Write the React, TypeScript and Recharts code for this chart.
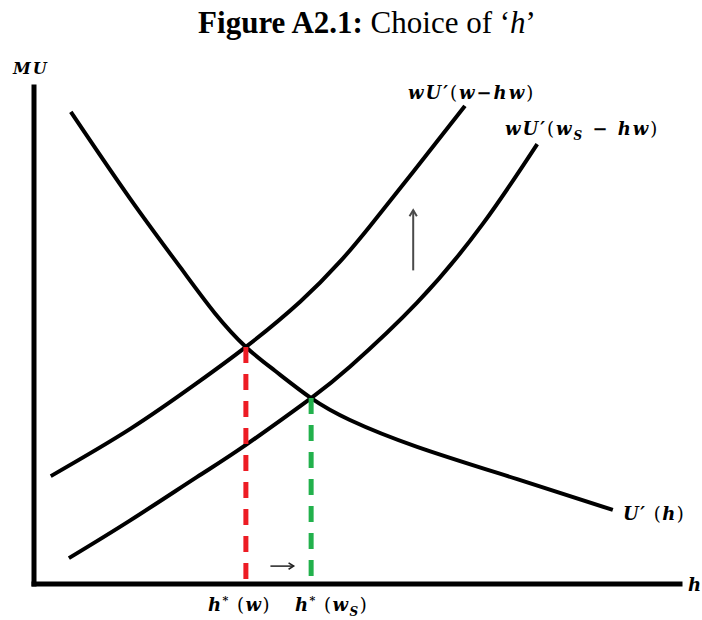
import { ComposedChart, Line, XAxis, YAxis, ReferenceLine } from 'recharts'

// h runs 0..100 along the axis, MU runs 0..100 up the axis
const uPrimeH = [5.7, 14.9, 22.6, 28.0, 32.8, 37.3, 42.9, 48.9, 59.3, 74.8, 89.6]
const uPrimeMU = [95.0, 77.5, 63.8, 54.5, 47.7, 42.9, 37.4, 33.0, 27.6, 21.1, 14.9]

const wageH = [2.6, 14.9, 25.2, 32.8, 41.2, 47.4, 52.0, 58.8, 66.7]
const wageMU = [21.7, 31.2, 40.4, 47.7, 56.8, 64.9, 72.0, 83.1, 96.2]

const subsidyH = [5.4, 14.9, 25.2, 32.8, 42.9, 48.9, 59.3, 69.5, 77.9]
const subsidyMU = [5.2, 12.8, 21.5, 28.0, 37.4, 43.7, 56.6, 72.5, 88.5]

// h*(w) and h*(w_S)
const optimumH = [32.8, 42.9]
const optimumMU = [47.7, 37.4]

// shift arrows
const upArrow = { h: 58.7, from: 63.1, to: 75.2 }
const rightArrow = { mu: 3.6, from: 36.6, to: 40.2 }

const toRows = (hs: number[], mus: number[]) => hs.map((h, i) => ({ h, mu: mus[i] }))

const uPrime = toRows(uPrimeH, uPrimeMU)
const wage = toRows(wageH, wageMU)
const subsidy = toRows(subsidyH, subsidyMU)

const math = { fontFamily: '"DejaVu Serif", serif', fontWeight: 'bold', fontStyle: 'italic' } as const
const upright = { fontFamily: '"DejaVu Serif", serif', fontWeight: 'normal', fontStyle: 'normal' } as const

function Arrow(props: any) {
  const { x1, y1, x2, y2, stroke, strokeWidth, head = 6 } = props
  const a = Math.atan2(y2 - y1, x2 - x1)
  const s = 0.55
  const p1 = [x2 - head * Math.cos(a - s), y2 - head * Math.sin(a - s)]
  const p2 = [x2 - head * Math.cos(a + s), y2 - head * Math.sin(a + s)]
  return (
    <g>
      <line x1={x1} y1={y1} x2={x2} y2={y2} stroke={stroke} strokeWidth={strokeWidth} />
      <polyline points={`${p1[0]},${p1[1]} ${x2},${y2} ${p2[0]},${p2[1]}`} fill="none" stroke={stroke} strokeWidth={strokeWidth} />
    </g>
  )
}

function Labels() {
  return (
    <svg width={702} height={620} style={{ position: 'absolute', left: 0, top: 0, pointerEvents: 'none' }}>
      <text x={367} y={33} textAnchor="middle" fontFamily='"Liberation Serif", serif' fontSize={31} fill="#000">
        <tspan fontWeight="bold">Figure A2.1:</tspan>
        <tspan> Choice of ‘</tspan>
        <tspan fontStyle="italic">h</tspan>
        <tspan>’</tspan>
      </text>
      <text x={13} y={74} fontSize={16} fill="#000" style={math} letterSpacing={2}>MU</text>
      <text x={408} y={99} fontSize={18} fill="#000" style={math} letterSpacing={2}>
        wU′<tspan style={upright}>(</tspan>w−hw<tspan style={upright}>)</tspan>
      </text>
      <text x={505} y={135} fontSize={18} fill="#000" style={math} letterSpacing={2}>
        wU′<tspan style={upright}>(</tspan>w<tspan fontSize={12} dy={5}>S</tspan>
        <tspan dy={-5}> − hw</tspan>
        <tspan style={upright}>)</tspan>
      </text>
      <text x={623} y={520} fontSize={18} fill="#000" style={math} letterSpacing={1.5}>
        U′<tspan style={upright}> (</tspan>h<tspan style={upright}>)</tspan>
      </text>
      <text x={688} y={591} fontSize={18} fill="#000" style={math}>h</text>
      <text x={208} y={611} fontSize={18} fill="#000" style={math} letterSpacing={1.5}>
        h<tspan fontSize={11} dy={-7}>*</tspan>
        <tspan dy={7} style={upright}> (</tspan>w<tspan style={upright}>)</tspan>
      </text>
      <text x={295} y={611} fontSize={18} fill="#000" style={math} letterSpacing={1.5}>
        h<tspan fontSize={11} dy={-7}>*</tspan>
        <tspan dy={7} style={upright}> (</tspan>w<tspan fontSize={12} dy={5}>S</tspan>
        <tspan dy={-5} style={upright}>)</tspan>
      </text>
    </svg>
  )
}

export default function App() {
  return (
    <div style={{ position: 'absolute', left: 0, top: 0, width: 702, height: 620, background: '#fff' }}>
      <ComposedChart width={702} height={620} margin={{ top: 87, right: 22, bottom: 36, left: 34 }}>
        <XAxis type="number" dataKey="h" domain={[0, 100]} allowDataOverflow hide />
        <YAxis type="number" dataKey="mu" domain={[0, 100]} allowDataOverflow hide />
        <Line data={uPrime} dataKey="mu" type="natural" stroke="#000" strokeWidth={4} dot={false} isAnimationActive={false} />
        <Line data={wage} dataKey="mu" type="natural" stroke="#000" strokeWidth={4} dot={false} isAnimationActive={false} />
        <Line data={subsidy} dataKey="mu" type="natural" stroke="#000" strokeWidth={4} dot={false} isAnimationActive={false} />
        {/* axes */}
        <ReferenceLine segment={[{ x: 0, y: 100 }, { x: 0, y: 0 }]} stroke="#000" strokeWidth={5} strokeLinecap="square" ifOverflow="visible" />
        <ReferenceLine segment={[{ x: 0, y: 0 }, { x: 100, y: 0 }]} stroke="#000" strokeWidth={5} strokeLinecap="square" ifOverflow="visible" />
        <ReferenceLine
          segment={[{ x: optimumH[0], y: optimumMU[0] }, { x: optimumH[0], y: 0 }]}
          stroke="#ed1c24"
          strokeWidth={5}
          strokeDasharray="16 11"
        />
        <ReferenceLine
          segment={[{ x: optimumH[1], y: optimumMU[1] }, { x: optimumH[1], y: 0 }]}
          stroke="#22b14c"
          strokeWidth={5}
          strokeDasharray="16 11"
        />
        <ReferenceLine
          segment={[{ x: upArrow.h, y: upArrow.from }, { x: upArrow.h, y: upArrow.to }]}
          stroke="#4a4a4a"
          strokeWidth={2}
          shape={(p: any) => <Arrow {...p} head={7} />}
        />
        <ReferenceLine
          segment={[{ x: rightArrow.from, y: rightArrow.mu }, { x: rightArrow.to, y: rightArrow.mu }]}
          stroke="#222"
          strokeWidth={1.5}
          shape={(p: any) => <Arrow {...p} head={6} />}
        />
      </ComposedChart>
      <Labels />
    </div>
  )
}
